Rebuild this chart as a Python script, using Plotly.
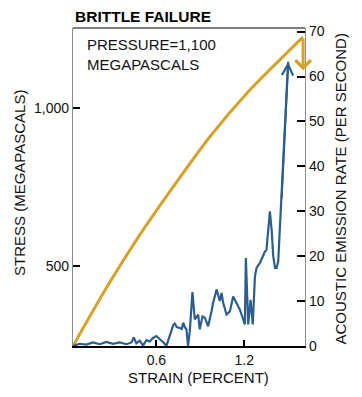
import plotly.graph_objects as go

# ---- data ----
strain_stress = [0.03, 0.235, 0.463, 0.691, 0.965, 1.238, 1.512, 1.602]
stress = [247, 413, 582, 735, 909, 1057, 1184, 1224]
stress_after_failure = 1119

strain_ae = [0.03, 0.075, 0.121, 0.166, 0.212, 0.258, 0.303, 0.349, 0.395, 0.429,
             0.445, 0.463, 0.486, 0.508, 0.532, 0.554, 0.577, 0.600, 0.623, 0.645,
             0.668, 0.691, 0.714, 0.725, 0.739, 0.759, 0.773, 0.783, 0.794, 0.805,
             0.816, 0.828, 0.846, 0.862, 0.885, 0.896, 0.915, 0.931, 0.953, 0.976,
             0.987, 1.011, 1.022, 1.033, 1.045, 1.056, 1.079, 1.102, 1.124, 1.147,
             1.170, 1.193, 1.204, 1.211, 1.227, 1.243, 1.258, 1.273, 1.284, 1.307,
             1.329, 1.341, 1.352, 1.364, 1.375, 1.387, 1.398, 1.410, 1.421, 1.432,
             1.444, 1.455, 1.500]
ae_rate = [0.0, 0.5, 0.3, 0.8, 0.4, 0.9, 0.5, 0.8, 0.4, 0.8,
           1.9, 0.6, 1.2, 0.1, 1.3, 1.0, 1.8, 2.2, 1.5, 0.9,
           0.0, 2.5, 4.6, 5.0, 4.2, 4.0, 3.8, 5.2, 4.2, 3.7,
           0.0, 3.3, 12.0, 5.9, 7.0, 3.7, 6.6, 6.3, 4.4, 7.7,
           9.6, 12.6, 11.4, 10.0, 11.8, 9.6, 7.0, 7.7, 11.0, 9.6,
           8.1, 5.9, 4.8, 19.6, 4.8, 10.3, 4.8, 15.5, 17.4, 18.5,
           20.3, 21.0, 21.4, 25.9, 30.0, 25.9, 20.0, 17.4, 17.4, 18.8,
           26.6, 32.6, 63.3]

x_ticks = [0.6, 1.2]
x_tick_text = ["0.6", "1.2"]
stress_ticks = [500, 1000]
stress_tick_text = ["500", "1,000"]
rate_ticks = [0, 10, 20, 30, 40, 50, 60, 70]

YELLOW = "#D6A22B"
BLUE = "#2B5D8E"
GRAY = "#8c8c8c"
FONT = "Liberation Sans"

fig = go.Figure()
fig.add_trace(go.Scatter(x=strain_stress, y=stress, mode="lines",
                         line=dict(color=YELLOW, width=3, shape="spline", smoothing=0.6),
                         yaxis="y", hoverinfo="skip", showlegend=False))
fig.add_trace(go.Scatter(x=strain_ae, y=ae_rate, mode="lines",
                         line=dict(color=BLUE, width=2.2),
                         yaxis="y2", hoverinfo="skip", showlegend=False))

annotations = [
    # stress drop arrow
    dict(x=strain_stress[-1], y=stress_after_failure, xref="x", yref="y",
         ax=strain_stress[-1], ay=stress[-1], axref="x", ayref="y",
         text="", showarrow=True, arrowhead=4, arrowwidth=3, arrowsize=1,
         arrowcolor=YELLOW, standoff=0),
    # acoustic emission off-scale arrow
    dict(x=strain_ae[-1], y=ae_rate[-1], xref="x", yref="y2",
         ax=strain_ae[-2], ay=ae_rate[-2], axref="x", ayref="y2",
         text="", showarrow=True, arrowhead=5, arrowwidth=2, arrowsize=1.1,
         arrowcolor=BLUE, standoff=0),
    dict(text="PRESSURE=1,100<br>MEGAPASCALS", xref="paper", yref="paper",
         x=(85 - 73) / 232, y=1 - (34 - 28) / 318, xanchor="left", yanchor="top",
         align="left", showarrow=False,
         font=dict(family=FONT, size=15, color="#111")),
    dict(text="<b>BRITTLE FAILURE</b>", xref="paper", yref="paper",
         x=0, y=1 + (28 - 16) / 318, xanchor="left", yanchor="middle",
         showarrow=False, font=dict(family=FONT, size=15.5, color="#000")),
    dict(text="STRESS (MEGAPASCALS)", xref="paper", yref="paper",
         x=(19.5 - 73) / 232, y=(346 - 183.5) / 318, xanchor="center", yanchor="middle",
         textangle=-90, showarrow=False, font=dict(family=FONT, size=15, color="#111")),
    dict(text="ACOUSTIC EMISSION RATE (PER SECOND)", xref="paper", yref="paper",
         x=(340 - 73) / 232, y=(346 - 189.5) / 318, xanchor="center", yanchor="middle",
         textangle=-90, showarrow=False, font=dict(family=FONT, size=15, color="#111")),
    dict(text="STRAIN (PERCENT)", xref="paper", yref="paper",
         x=(198.5 - 73) / 232, y=(346 - 377) / 318, xanchor="center", yanchor="middle",
         showarrow=False, font=dict(family=FONT, size=15, color="#111")),
]

fig.update_layout(
    width=362, height=397,
    margin=dict(l=73, r=57, t=28, b=51),
    paper_bgcolor="white", plot_bgcolor="white",
    font=dict(family=FONT, size=14, color="#111"),
    annotations=annotations,
    shapes=[dict(type="line", xref="paper", yref="paper", x0=0, x1=1, y0=1, y1=1,
                 line=dict(color="#000", width=1.2))],
    xaxis=dict(range=[0.03, 1.615], tickvals=x_ticks, ticktext=x_tick_text,
               ticks="inside", ticklen=6, tickwidth=1.5, tickcolor="#000",
               showline=True, linecolor="#000", linewidth=2.2,
               showgrid=False, zeroline=False, fixedrange=True),
    yaxis=dict(range=[247, 1253], tickvals=stress_ticks, ticktext=stress_tick_text,
               ticks="inside", ticklen=7, tickwidth=2, tickcolor="#000",
               showline=True, linecolor=GRAY, linewidth=1.2,
               showgrid=False, zeroline=False, fixedrange=True),
    yaxis2=dict(range=[0, 70.8], tickvals=rate_ticks, overlaying="y", side="right",
                ticks="inside", ticklen=8, tickwidth=2, tickcolor="#000",
                showline=True, linecolor=GRAY, linewidth=1.2,
                showgrid=False, zeroline=False, fixedrange=True),
)

fig.write_html("out.html", config={"displayModeBar": False},
               post_script="document.body.style.margin='0';document.body.style.overflow='hidden';")
